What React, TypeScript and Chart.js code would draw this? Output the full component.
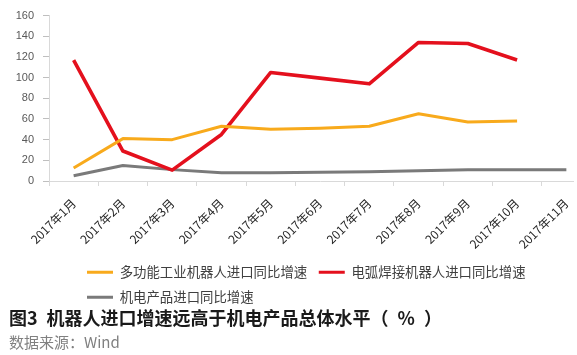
import React, { useEffect, useRef } from "react";
import { Chart, registerables } from "chart.js";

Chart.register(...registerables);

const categories = [
  "2017年1月", "2017年2月", "2017年3月", "2017年4月", "2017年5月", "2017年6月",
  "2017年7月", "2017年8月", "2017年9月", "2017年10月", "2017年11月",
];
const multiFunctionRobot = [12.5, 41, 40, 53, 50, 51, 53, 65, 57, 58, null];
const arcWeldingRobot = [117, 29, 10.5, 45, 105, 99.5, 94, 134, 133, 117, null];
const electromechanical = [5, 15, 11, 8, 8, 8.5, 9, 10, 11, 11, 11];
const seriesNames = [
  "多功能工业机器人进口同比增速",
  "电弧焊接机器人进口同比增速",
  "机电产品进口同比增速",
];
const yMin = 0;
const yMax = 160;
const yStep = 20;
const titleText = "图3\u2002机器人进口增速远高于机电产品总体水平（\u2002%\u2002）";
const sourceText = "数据来源：Wind";

const COLORS = ["#f8aa1c", "#e4101d", "#7a7a7a"];
const CJK = "'Noto Sans CJK SC', 'Noto Sans', sans-serif";

const legendShift = {
  id: "legendShift",
  afterLayout(chart: any) {
    const lg = chart.legend;
    if (lg) {
      lg.left += 75.4;
      lg.right += 75.4;
    }
  },
};

export default function App() {
  const ref = useRef<HTMLCanvasElement | null>(null);

  useEffect(() => {
    if (!ref.current) return;
    const series = [multiFunctionRobot, arcWeldingRobot, electromechanical];
    const chart = new Chart(ref.current, {
      type: "line",
      data: {
        labels: categories,
        datasets: series.map((d, i) => ({
          label: seriesNames[i],
          data: d,
          borderColor: COLORS[i],
          backgroundColor: COLORS[i],
          borderWidth: i === 1 ? 3.6 : 3,
          pointRadius: 0,
          pointHoverRadius: 0,
          tension: 0,
          borderJoinStyle: "round" as const,
          borderCapStyle: "butt" as const,
          spanGaps: false,
        })),
      },
      options: {
        responsive: false,
        animation: false,
        devicePixelRatio: 1,
        layout: { padding: { top: 12, right: 0, bottom: 0, left: 0 } },
        plugins: {
          tooltip: { enabled: false },
          legend: {
            position: "bottom",
            align: "start",
            labels: {
              boxWidth: 26,
              boxHeight: 3,
              padding: 11.6,
              color: "#404040",
              font: { family: CJK, size: 13.4 },
              generateLabels: (c: any) =>
                Chart.defaults.plugins.legend.labels
                  .generateLabels(c)
                  .map((l: any) => ({ ...l, lineWidth: 0 })),
            },
          },
        },
        scales: {
          x: {
            type: "category",
            offset: true,
            grid: {
              display: true,
              drawOnChartArea: false,
              drawTicks: true,
              tickLength: 5,
              color: "#d9d9d9",
              offset: true,
            },
            border: { display: true, color: "#d9d9d9", width: 1 },
            ticks: {
              autoSkip: false,
              minRotation: 45,
              maxRotation: 45,
              padding: 10,
              color: "#262626",
              font: { family: CJK, size: 12 },
            },
            afterFit: (s: any) => {
              s.height = 73;
            },
          },
          y: {
            min: yMin,
            max: yMax,
            grid: {
              display: true,
              drawOnChartArea: false,
              drawTicks: true,
              tickLength: 6,
              color: "#bfbfbf",
            },
            border: { display: true, color: "#d9d9d9", width: 1 },
            ticks: {
              stepSize: yStep,
              padding: 9,
              color: "#595959",
              font: { family: "'Liberation Sans', Arial, sans-serif", size: 11 },
            },
            afterFit: (s: any) => {
              s.width = 49;
            },
          },
        },
      },
      plugins: [legendShift],
    });
    return () => chart.destroy();
  }, []);

  return (
    <div
      style={{
        position: "fixed",
        left: 0,
        top: 0,
        width: 574,
        height: 355,
        overflow: "hidden",
        background: "#ffffff",
      }}
    >
      <canvas
        ref={ref}
        width={591}
        height={314}
        style={{ position: "absolute", left: 0, top: 0, width: 591, height: 314 }}
      />
      <div
        style={{
          position: "absolute",
          left: 9,
          top: 307.7,
          fontFamily: CJK,
          fontSize: 18,
          lineHeight: "18px",
          fontWeight: 700,
          color: "#1a1a1a",
          whiteSpace: "pre",
        }}
      >
        {titleText}
      </div>
      <div
        style={{
          position: "absolute",
          left: 9,
          top: 333.7,
          fontFamily: CJK,
          fontSize: 15,
          lineHeight: "15px",
          color: "#808080",
          whiteSpace: "pre",
        }}
      >
        {sourceText}
      </div>
    </div>
  );
}
